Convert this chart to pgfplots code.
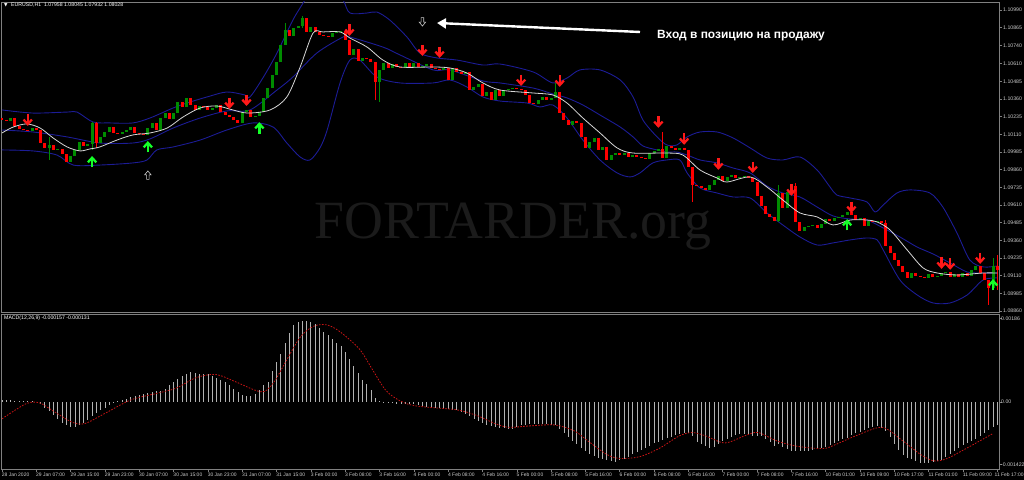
\documentclass[border=0pt]{standalone}
\usepackage{pgfplots}
\pgfplotsset{compat=1.18}
\usepackage{pgfplotstable}
\usepackage{fontspec}
\setmainfont{Liberation Sans}
\newfontfamily\dejavu{DejaVu Sans}
\newfontfamily\wmfont{Liberation Serif}
\usetikzlibrary{arrows.meta}

\definecolor{bull}{RGB}{0,140,0}
\definecolor{bear}{RGB}{255,0,0}
\definecolor{band}{RGB}{28,28,150}
\definecolor{maline}{RGB}{215,215,215}
\definecolor{frame}{RGB}{128,128,128}
\definecolor{lbl}{RGB}{205,205,205}
\definecolor{arrred}{RGB}{255,25,25}
\definecolor{arrgreen}{RGB}{20,255,40}
\definecolor{wm}{RGB}{27,27,27}
\definecolor{hist}{RGB}{178,178,178}
\definecolor{sig}{RGB}{200,20,20}

\pgfdeclareplotmark{mtdown}{%
  \pgfpathmoveto{\pgfqpoint{0pt}{5.5pt}}\pgfpathlineto{\pgfqpoint{0pt}{-3.5pt}}\pgfusepathqstroke
  \pgfpathmoveto{\pgfqpoint{-4.2pt}{0.4pt}}\pgfpathlineto{\pgfqpoint{0pt}{-4.2pt}}\pgfpathlineto{\pgfqpoint{4.2pt}{0.4pt}}\pgfusepathqstroke}
\pgfdeclareplotmark{mtup}{%
  \pgfpathmoveto{\pgfqpoint{0pt}{-5.5pt}}\pgfpathlineto{\pgfqpoint{0pt}{3.5pt}}\pgfusepathqstroke
  \pgfpathmoveto{\pgfqpoint{-4.2pt}{-0.4pt}}\pgfpathlineto{\pgfqpoint{0pt}{4.2pt}}\pgfpathlineto{\pgfqpoint{4.2pt}{-0.4pt}}\pgfusepathqstroke}
\pgfdeclareplotmark{hdown}{%
  \pgfpathmoveto{\pgfqpoint{-1.3pt}{4.5pt}}\pgfpathlineto{\pgfqpoint{1.3pt}{4.5pt}}\pgfpathlineto{\pgfqpoint{1.3pt}{0pt}}%
  \pgfpathlineto{\pgfqpoint{3.3pt}{0pt}}\pgfpathlineto{\pgfqpoint{0pt}{-4pt}}\pgfpathlineto{\pgfqpoint{-3.3pt}{0pt}}%
  \pgfpathlineto{\pgfqpoint{-1.3pt}{0pt}}\pgfpathclose\pgfusepathqstroke}
\pgfdeclareplotmark{hup}{%
  \pgfpathmoveto{\pgfqpoint{-1.3pt}{-4.5pt}}\pgfpathlineto{\pgfqpoint{1.3pt}{-4.5pt}}\pgfpathlineto{\pgfqpoint{1.3pt}{0pt}}%
  \pgfpathlineto{\pgfqpoint{3.3pt}{0pt}}\pgfpathlineto{\pgfqpoint{0pt}{4pt}}\pgfpathlineto{\pgfqpoint{-3.3pt}{0pt}}%
  \pgfpathlineto{\pgfqpoint{-1.3pt}{0pt}}\pgfpathclose\pgfusepathqstroke}

\pgfplotstableread{
i o c
0 1.10226 1.10212
1 1.10212 1.10205
2 1.10205 1.10226
3 1.10226 1.10169
4 1.10169 1.10148
5 1.10148 1.10141
6 1.10141 1.10134
7 1.10134 1.10155
8 1.10155 1.10141
9 1.10141 1.10049
10 1.10049 1.10014
11 1.10014 1.10035
12 1.10035 1.10000
13 1.10000 1.10007
14 1.10007 1.09971
15 1.09971 1.09915
16 1.09915 1.09957
17 1.09957 1.10000
18 1.10000 1.10056
19 1.10056 1.10028
20 1.10028 1.10042
21 1.10042 1.10191
22 1.10191 1.10049
23 1.10049 1.10092
24 1.10092 1.10127
25 1.10127 1.10162
26 1.10162 1.10120
27 1.10120 1.10113
28 1.10113 1.10127
29 1.10127 1.10141
30 1.10141 1.10162
31 1.10162 1.10120
32 1.10120 1.10113
33 1.10113 1.10106
34 1.10106 1.10155
35 1.10155 1.10191
36 1.10191 1.10141
37 1.10141 1.10226
38 1.10226 1.10261
39 1.10261 1.10219
40 1.10219 1.10261
41 1.10261 1.10339
42 1.10339 1.10304
43 1.10304 1.10368
44 1.10368 1.10318
45 1.10318 1.10283
46 1.10283 1.10311
47 1.10311 1.10304
48 1.10304 1.10283
49 1.10283 1.10297
50 1.10297 1.10318
51 1.10318 1.10268
52 1.10268 1.10247
53 1.10247 1.10233
54 1.10233 1.10212
55 1.10212 1.10191
56 1.10191 1.10268
57 1.10268 1.10283
58 1.10283 1.10233
59 1.10233 1.10240
60 1.10240 1.10268
61 1.10268 1.10368
62 1.10368 1.10438
63 1.10438 1.10530
64 1.10530 1.10622
65 1.10622 1.10743
66 1.10743 1.10849
67 1.10849 1.10806
68 1.10806 1.10863
69 1.10863 1.10877
70 1.10877 1.10934
71 1.10934 1.10835
72 1.10835 1.10870
73 1.10870 1.10835
74 1.10835 1.10813
75 1.10813 1.10806
76 1.10806 1.10799
77 1.10799 1.10827
78 1.10827 1.10835
79 1.10835 1.10842
80 1.10842 1.10778
81 1.10778 1.10672
82 1.10672 1.10714
83 1.10714 1.10629
84 1.10629 1.10651
85 1.10651 1.10644
86 1.10644 1.10622
87 1.10622 1.10481
88 1.10481 1.10566
89 1.10566 1.10615
90 1.10615 1.10580
91 1.10580 1.10608
92 1.10608 1.10587
93 1.10587 1.10580
94 1.10580 1.10615
95 1.10615 1.10587
96 1.10587 1.10615
97 1.10615 1.10587
98 1.10587 1.10594
99 1.10594 1.10608
100 1.10608 1.10580
101 1.10580 1.10573
102 1.10573 1.10566
103 1.10566 1.10580
104 1.10580 1.10495
105 1.10495 1.10580
106 1.10580 1.10552
107 1.10552 1.10537
108 1.10537 1.10552
109 1.10552 1.10424
110 1.10424 1.10445
111 1.10445 1.10467
112 1.10467 1.10382
113 1.10382 1.10410
114 1.10410 1.10353
115 1.10353 1.10424
116 1.10424 1.10382
117 1.10382 1.10424
118 1.10424 1.10431
119 1.10431 1.10438
120 1.10438 1.10431
121 1.10431 1.10424
122 1.10424 1.10389
123 1.10389 1.10332
124 1.10332 1.10325
125 1.10325 1.10353
126 1.10353 1.10375
127 1.10375 1.10353
128 1.10353 1.10368
129 1.10368 1.10410
130 1.10410 1.10261
131 1.10261 1.10212
132 1.10212 1.10176
133 1.10176 1.10205
134 1.10205 1.10191
135 1.10191 1.10092
136 1.10092 1.10014
137 1.10014 1.10056
138 1.10056 1.10085
139 1.10085 1.10000
140 1.10000 1.10021
141 1.10021 1.09929
142 1.09929 1.09964
143 1.09964 1.09978
144 1.09978 1.09964
145 1.09964 1.09978
146 1.09978 1.09950
147 1.09950 1.09964
148 1.09964 1.09950
149 1.09950 1.09943
150 1.09943 1.09936
151 1.09936 1.09978
152 1.09978 1.09993
153 1.09993 1.10007
154 1.10007 1.09943
155 1.09943 1.10028
156 1.10028 1.10014
157 1.10014 1.10000
158 1.10000 1.10014
159 1.10014 1.10000
160 1.10000 1.09879
161 1.09879 1.09752
162 1.09752 1.09745
163 1.09745 1.09731
164 1.09731 1.09717
165 1.09717 1.09752
166 1.09752 1.09787
167 1.09787 1.09816
168 1.09816 1.09780
169 1.09780 1.09809
170 1.09809 1.09823
171 1.09823 1.09801
172 1.09801 1.09809
173 1.09809 1.09816
174 1.09816 1.09801
175 1.09801 1.09773
176 1.09773 1.09674
177 1.09674 1.09603
178 1.09603 1.09547
179 1.09547 1.09526
180 1.09526 1.09497
181 1.09497 1.09695
182 1.09695 1.09589
183 1.09589 1.09702
184 1.09702 1.09745
185 1.09745 1.09490
186 1.09490 1.09426
187 1.09426 1.09455
188 1.09455 1.09462
189 1.09462 1.09469
190 1.09469 1.09448
191 1.09448 1.09476
192 1.09476 1.09511
193 1.09511 1.09497
194 1.09497 1.09518
195 1.09518 1.09526
196 1.09526 1.09540
197 1.09540 1.09561
198 1.09561 1.09540
199 1.09540 1.09504
200 1.09504 1.09518
201 1.09518 1.09462
202 1.09462 1.09497
203 1.09497 1.09490
204 1.09490 1.09497
205 1.09497 1.09483
206 1.09483 1.09320
207 1.09320 1.09271
208 1.09271 1.09221
209 1.09221 1.09179
210 1.09179 1.09136
211 1.09136 1.09094
212 1.09094 1.09129
213 1.09129 1.09108
214 1.09108 1.09101
215 1.09101 1.09094
216 1.09094 1.09122
217 1.09122 1.09101
218 1.09101 1.09108
219 1.09108 1.09129
220 1.09129 1.09136
221 1.09136 1.09101
222 1.09101 1.09122
223 1.09122 1.09101
224 1.09101 1.09129
225 1.09129 1.09108
226 1.09108 1.09150
227 1.09150 1.09179
228 1.09179 1.09129
229 1.09129 1.09080
230 1.09080 1.09023
231 1.09023 1.09179
232 1.09179 1.09150
}\candles

\pgfplotstableread{
i h l d
11 1.10092 1.09929 1
21 1.10198 1.10000 1
22 1.10198 1.10014 -1
66 1.10898 1.10743 1
70 1.10948 1.10863 1
87 1.10622 1.10353 -1
88 1.10566 1.10339 1
129 1.10474 1.10368 1
154 1.10127 1.09943 -1
161 1.09879 1.09632 -1
181 1.09752 1.09490 1
185 1.09766 1.09490 -1
206 1.09504 1.09320 -1
230 1.09080 1.08903 -1
231 1.09235 1.09023 1
232 1.09257 1.09009 -1
}\wicks

\pgfplotstableread{
i p
0 1.10283
7.2 1.10261
15.2 1.10268
17.5 1.10268
21.2 1.10198
25.2 1.10191
30.5 1.10191
34.5 1.10226
39.9 1.10297
43.1 1.10332
47.8 1.10375
52.4 1.10410
56.6 1.10389
57.8 1.10375
60.8 1.10509
64.1 1.10686
67.8 1.10919
70.6 1.11061
73 1.11203
76.5 1.11167
79.5 1.11061
81.1 1.10969
85.1 1.10969
87.4 1.10976
90.4 1.10919
94.4 1.10799
97.4 1.10686
101.4 1.10651
106.1 1.10636
112.1 1.10601
116.1 1.10608
123.8 1.10552
128.4 1.10474
131.7 1.10509
134.7 1.10566
139.4 1.10566
144.1 1.10495
147.1 1.10375
149.4 1.10212
152.7 1.10092
155 1.10035
157.3 1.10035
159.7 1.10092
162.7 1.10127
166.7 1.10127
170.4 1.10085
174.4 1.10014
178.3 1.09943
182 1.09929
186 1.09950
190 1.09858
193 1.09738
194.6 1.09681
197.7 1.09660
201.6 1.09632
203.5 1.09561
205.4 1.09610
208.6 1.09695
211.7 1.09717
216.3 1.09695
219.3 1.09596
222.6 1.09412
225.6 1.09221
228.7 1.09172
232 1.09179
}\tblupper

\pgfplotstableread{
i p
0 1.10141
7.2 1.10127
15.2 1.10092
22.8 1.10049
30.5 1.10049
34.5 1.10078
39.9 1.10155
46.2 1.10226
52.4 1.10276
57.8 1.10283
64.1 1.10424
67.8 1.10516
73.4 1.10686
79.5 1.10799
81.1 1.10799
88.8 1.10728
92.8 1.10672
100.5 1.10566
104.4 1.10566
112.1 1.10488
116.1 1.10474
123.8 1.10438
128.4 1.10396
131.7 1.10368
135.4 1.10318
139.4 1.10247
144.1 1.10162
147.1 1.10092
149.4 1.10028
152.7 1.10000
155 1.09985
157.3 1.09985
159.7 1.09964
162.7 1.09929
166.7 1.09908
170.4 1.09872
174.4 1.09837
178.3 1.09745
182 1.09695
186 1.09667
190 1.09596
193.7 1.09533
197.7 1.09511
201.6 1.09504
205.4 1.09448
209.3 1.09384
213.3 1.09313
217 1.09264
221 1.09200
225 1.09136
228.7 1.09129
232 1.09129
}\tblmid

\pgfplotstableread{
i p
0 1.10000
7.2 1.09993
12.8 1.09964
16.6 1.09893
22.8 1.09893
30.5 1.09908
33.8 1.09929
36.1 1.10000
39.9 1.10021
46.2 1.10070
52.4 1.10141
58.5 1.10191
63.2 1.10162
66.4 1.10049
69.5 1.09950
71.8 1.09929
74.1 1.10014
75.8 1.10141
78.8 1.10474
81.1 1.10636
83.4 1.10636
87.4 1.10516
92.8 1.10474
100.5 1.10474
104.4 1.10495
108.4 1.10445
112.1 1.10375
116.1 1.10346
122.4 1.10332
125.4 1.10304
128.4 1.10318
131.7 1.10226
135.4 1.10070
139.4 1.09929
143.4 1.09837
146.4 1.09809
148.7 1.09837
151.7 1.09908
155 1.09929
158 1.09929
159.7 1.09837
162.7 1.09731
166.7 1.09695
170.4 1.09667
174.4 1.09660
178.3 1.09554
182 1.09469
186 1.09384
190 1.09327
193.7 1.09342
197.7 1.09363
201.6 1.09377
204 1.09363
205.4 1.09292
209.3 1.09080
213.3 1.08974
217 1.08917
221 1.08917
225 1.08974
228.7 1.09080
232 1.09094
}\tbllow

\pgfplotstableread{
i p
0 1.10120
2.6 1.10162
5.8 1.10184
8.9 1.10155
11.9 1.10085
15.2 1.10021
18.2 1.09993
20.5 1.10007
22.8 1.10021
26.8 1.10070
30.5 1.10106
34.5 1.10120
38.5 1.10155
42.2 1.10233
46.2 1.10297
50.1 1.10311
53.8 1.10283
57.3 1.10261
62.5 1.10283
66.4 1.10375
69.5 1.10587
72.5 1.10827
74.8 1.10835
78.8 1.10835
81.1 1.10792
85.1 1.10728
88.8 1.10636
92.8 1.10587
100.5 1.10587
104.4 1.10580
108.4 1.10544
112.1 1.10474
116.1 1.10424
123.8 1.10403
128.4 1.10389
131.7 1.10332
135.4 1.10226
139.4 1.10120
143.4 1.10014
147.1 1.09978
155 1.09978
158.7 1.09964
162.7 1.09858
166.7 1.09801
169 1.09773
174.4 1.09809
178.3 1.09738
182 1.09646
186 1.09554
190 1.09526
193.7 1.09469
197.7 1.09504
201.6 1.09504
204 1.09490
207 1.09434
211 1.09292
214.7 1.09165
218 1.09129
222.6 1.09115
228.7 1.09129
232 1.09129
}\tblma

\pgfplotstableread{
i p
6 1.10212
53 1.10332
57 1.10353
81 1.10849
98 1.10707
102 1.10693
121 1.10495
130 1.10488
153 1.10198
159 1.10078
167 1.09901
175 1.09879
184 1.09717
198 1.09596
219 1.09200
221 1.09193
228 1.09235
}\sellarrows

\pgfplotstableread{
i p
21 1.09915
34 1.10021
60 1.10155
197 1.09469
231 1.09044
}\buyarrows

\pgfplotstableread{
i v
0 3e-5
1 3e-5
2 3e-5
3 2e-5
4 2e-5
5 2e-5
6 1e-5
7 1e-5
8 0
9 -5e-5
10 -12e-5
11 -20e-5
12 -28e-5
13 -36e-5
14 -44e-5
15 -50e-5
16 -54e-5
17 -54e-5
18 -50e-5
19 -44e-5
20 -38e-5
21 -30e-5
22 -24e-5
23 -18e-5
24 -12e-5
25 -6e-5
26 -2e-5
27 1e-5
28 4e-5
29 7e-5
30 10e-5
31 12e-5
32 14e-5
33 16e-5
34 18e-5
35 20e-5
36 22e-5
37 24e-5
38 28e-5
39 35e-5
40 42e-5
41 49e-5
42 55e-5
43 60e-5
44 63e-5
45 62e-5
46 60e-5
47 59e-5
48 58e-5
49 55e-5
50 50e-5
51 47e-5
52 41e-5
53 35e-5
54 27e-5
55 20e-5
56 14e-5
57 13e-5
58 12e-5
59 16e-5
60 25e-5
61 35e-5
62 43e-5
63 65e-5
64 85e-5
65 101e-5
66 125e-5
67 145e-5
68 162e-5
69 168e-5
70 172e-5
71 172e-5
72 170e-5
73 165e-5
74 156e-5
75 148e-5
76 142e-5
77 134e-5
78 124e-5
79 118e-5
80 105e-5
81 91e-5
82 75e-5
83 62e-5
84 47e-5
85 38e-5
86 25e-5
87 8e-5
88 1e-5
89 -2e-5
90 -3e-5
91 -3e-5
92 -4e-5
93 -4e-5
94 -4e-5
95 -5e-5
96 -5e-5
97 -7e-5
98 -9e-5
99 -11e-5
100 -12e-5
101 -13e-5
102 -14e-5
103 -15e-5
104 -16e-5
105 -17e-5
106 -18e-5
107 -22e-5
108 -26e-5
109 -31e-5
110 -36e-5
111 -40e-5
112 -44e-5
113 -48e-5
114 -52e-5
115 -54e-5
116 -55e-5
117 -56e-5
118 -57e-5
119 -58e-5
120 -54e-5
121 -50e-5
122 -48e-5
123 -47e-5
124 -47e-5
125 -46e-5
126 -46e-5
127 -47e-5
128 -48e-5
129 -50e-5
130 -58e-5
131 -66e-5
132 -74e-5
133 -82e-5
134 -90e-5
135 -97e-5
136 -104e-5
137 -110e-5
138 -114e-5
139 -118e-5
140 -121e-5
141 -124e-5
142 -126e-5
143 -127e-5
144 -124e-5
145 -120e-5
146 -116e-5
147 -111e-5
148 -106e-5
149 -101e-5
150 -97e-5
151 -93e-5
152 -88e-5
153 -84e-5
154 -80e-5
155 -77e-5
156 -74e-5
157 -71e-5
158 -68e-5
159 -66e-5
160 -66e-5
161 -72e-5
162 -84e-5
163 -90e-5
164 -94e-5
165 -97e-5
166 -96e-5
167 -90e-5
168 -83e-5
169 -78e-5
170 -74e-5
171 -71e-5
172 -69e-5
173 -69e-5
174 -70e-5
175 -72e-5
176 -72e-5
177 -73e-5
178 -78e-5
179 -86e-5
180 -94e-5
181 -90e-5
182 -96e-5
183 -100e-5
184 -104e-5
185 -105e-5
186 -104e-5
187 -105e-5
188 -104e-5
189 -102e-5
190 -100e-5
191 -98e-5
192 -95e-5
193 -91e-5
194 -87e-5
195 -83e-5
196 -79e-5
197 -76e-5
198 -71e-5
199 -67e-5
200 -63e-5
201 -59e-5
202 -56e-5
203 -53e-5
204 -51e-5
205 -55e-5
206 -62e-5
207 -75e-5
208 -90e-5
209 -102e-5
210 -112e-5
211 -118e-5
212 -122e-5
213 -126e-5
214 -129e-5
215 -130e-5
216 -129e-5
217 -127e-5
218 -126e-5
219 -123e-5
220 -117e-5
221 -110e-5
222 -104e-5
223 -98e-5
224 -92e-5
225 -87e-5
226 -82e-5
227 -78e-5
228 -72e-5
229 -66e-5
230 -60e-5
231 -54e-5
232 -50e-5
}\macdhist

\pgfplotstableread{
i v
0 -0.00036
5.6 -0.00004
8.7 -0.00002
11.7 -0.00018
16.3 -0.00043
19.3 -0.00046
23.9 -0.00025
30 0.00004
36.1 0.00018
40.6 0.00029
45.2 0.00051
49.8 0.00058
54.3 0.00043
58.9 0.00025
61.2 0.00022
63.5 0.00043
66.5 0.00091
69.6 0.00138
72.6 0.00160
75.7 0.00163
78.7 0.00149
83.3 0.00112
86.3 0.00069
89.4 0.00025
92.4 0.00004
95.5 -0.00007
100 -0.00012
106.1 -0.00017
110.7 -0.00029
115.2 -0.00047
118.3 -0.00054
122.9 -0.00051
128.9 -0.00049
133.5 -0.00062
136.6 -0.00083
141.1 -0.00112
144.2 -0.00120
148.7 -0.00116
153.3 -0.00098
157.9 -0.00072
160.9 -0.00065
164 -0.00072
168.5 -0.00087
173.1 -0.00072
176.2 -0.00065
180.7 -0.00083
185.3 -0.00094
191.4 -0.00099
194.4 -0.00090
199 -0.00072
205.1 -0.00054
209.6 -0.00080
214.2 -0.00112
217.3 -0.00125
220.3 -0.00120
224.9 -0.00098
231 -0.00067
}\macdsig

\pgfplotsset{
  mtaxis/.style={
    scale only axis, anchor=north west, width=998bp,
    xmin=-0.23, xmax=232.4,
    axis line style={draw=frame, line width=0.8bp},
    ytick pos=right, yticklabel pos=right,
    tick align=outside, major tick length=3bp,
    tick style={draw=frame, line width=0.6bp},
    yticklabel style={font=\fontsize{5.2}{6}\selectfont, text=lbl, inner sep=1bp},
    scaled y ticks=false,
  }
}

\begin{document}
\begin{tikzpicture}
\fill[black] (0,0) rectangle (1024bp,480bp);
\node[font=\wmfont\fontsize{54}{60}\selectfont, text=wm] at (513bp,254bp) {FORTARDER.org};

\begin{axis}[mtaxis,
  at={(1bp,478bp)}, height=310bp,
  ymin=1.08853, ymax=1.11047,
  xtick=\empty,
  ytick={1.10990,1.10865,1.10740,1.10610,1.10485,1.10360,1.10235,1.10110,1.09985,1.09860,1.09735,1.09610,1.09485,1.09360,1.09235,1.09110,1.08985,1.08860},
  yticklabels={1.10990,1.10865,1.10740,1.10610,1.10485,1.10360,1.10235,1.10110,1.09985,1.09860,1.09735,1.09610,1.09485,1.09360,1.09235,1.09110,1.08985,1.08860},
]
\addplot[band, line width=0.9bp, smooth] table[x=i,y=p] {\tblupper};
\addplot[band, line width=0.9bp, smooth] table[x=i,y=p] {\tblmid};
\addplot[band, line width=0.9bp, smooth] table[x=i,y=p] {\tbllow};
\addplot[draw=bull, line width=0.8bp, quiver={u=0, v=\thisrow{h}-\thisrow{l}}, restrict expr to domain={\thisrow{d}}{0:2}] table[x=i,y=l] {\wicks};
\addplot[draw=bear, line width=0.8bp, quiver={u=0, v=\thisrow{h}-\thisrow{l}}, restrict expr to domain={\thisrow{d}}{-2:0}] table[x=i,y=l] {\wicks};
\addplot[draw=bull, line width=3bp, quiver={u=0, v=\thisrow{c}-\thisrow{o}}, restrict expr to domain={\thisrow{c}-\thisrow{o}}{0:1}] table[x=i,y=o] {\candles};
\addplot[draw=bear, line width=3bp, quiver={u=0, v=\thisrow{c}-\thisrow{o}}, restrict expr to domain={\thisrow{o}-\thisrow{c}}{0.000001:1}] table[x=i,y=o] {\candles};
\addplot[maline, line width=0.8bp, smooth] table[x=i,y=p] {\tblma};
\addplot[only marks, mark=mtdown, mark options={draw=arrred, line width=2.3bp}] table[x=i,y=p] {\sellarrows};
\addplot[only marks, mark=mtup, mark options={draw=arrgreen, line width=2.3bp}] table[x=i,y=p] {\buyarrows};
\addplot[only marks, mark=hup, mark options={draw=white!80!black, line width=0.6bp}] coordinates {(34,1.09823)};
\addplot[only marks, mark=hdown, mark options={draw=white!80!black, line width=0.6bp}] coordinates {(98,1.10905)};
\end{axis}

\begin{axis}[mtaxis,
  at={(1bp,166bp)}, height=155bp,
  ymin=-0.001422, ymax=0.00186,
  ytick={0.00176,0,-0.00133},
  yticklabels={0.00186,0.00,-0.001422},
  yticklabel style={xshift=-2bp},
  xtick={0,8,...,224},
  xticklabels={28 Jan 2020,29 Jan 07:00,29 Jan 15:00,29 Jan 23:00,30 Jan 07:00,30 Jan 15:00,30 Jan 23:00,31 Jan 07:00,31 Jan 15:00,3 Feb 00:00,3 Feb 08:00,3 Feb 16:00,4 Feb 00:00,4 Feb 08:00,4 Feb 16:00,5 Feb 00:00,5 Feb 08:00,5 Feb 16:00,6 Feb 00:00,6 Feb 08:00,6 Feb 16:00,7 Feb 00:00,7 Feb 08:00,7 Feb 16:00,10 Feb 01:00,10 Feb 09:00,10 Feb 17:00,11 Feb 01:00,11 Feb 09:00},
  extra x ticks={232},
  extra x tick labels={11 Feb 17:00},
  extra x tick style={xticklabel style={xshift=-2.6bp}},
  xtick pos=bottom,
  xticklabel style={font=\fontsize{5}{6}\selectfont, text=lbl, anchor=north west, inner sep=0.5bp, xshift=-0.8bp},
]
\addplot[draw=hist, line width=0.8bp, quiver={u=0, v=\thisrow{v}}] table[x=i, y expr=0] {\macdhist};
\addplot[sig, line width=0.8bp, dash pattern=on 1.6bp off 1.4bp, smooth] table[x=i,y=v] {\macdsig};
\end{axis}

\node[anchor=west, font=\dejavu\fontsize{4.5}{5}\selectfont, text=white, inner sep=0] at (4bp,475bp) {▼};
\node[anchor=west, font=\fontsize{5.2}{6}\selectfont, text=white, inner sep=0] at (11bp,475bp) {EURUSD,H1\ \ 1.07958 1.08045 1.07932 1.08028};
\node[anchor=west, font=\fontsize{5.2}{6}\selectfont, text=white, inner sep=0] at (4bp,162bp) {MACD(12,26,9) -0.000157 -0.000131};
\draw[white, line width=2.4bp, -{Triangle[length=9bp,width=10bp]}] (640bp,448bp) -- (437bp,457bp);
\node[anchor=west, font=\bfseries\fontsize{12}{14}\selectfont, text=white, inner sep=0] at (657bp,444bp) {Вход в позицию на продажу};
\pgfresetboundingbox
\path[use as bounding box] (0,0) rectangle (1024bp,480bp);
\end{tikzpicture}
\end{document}
